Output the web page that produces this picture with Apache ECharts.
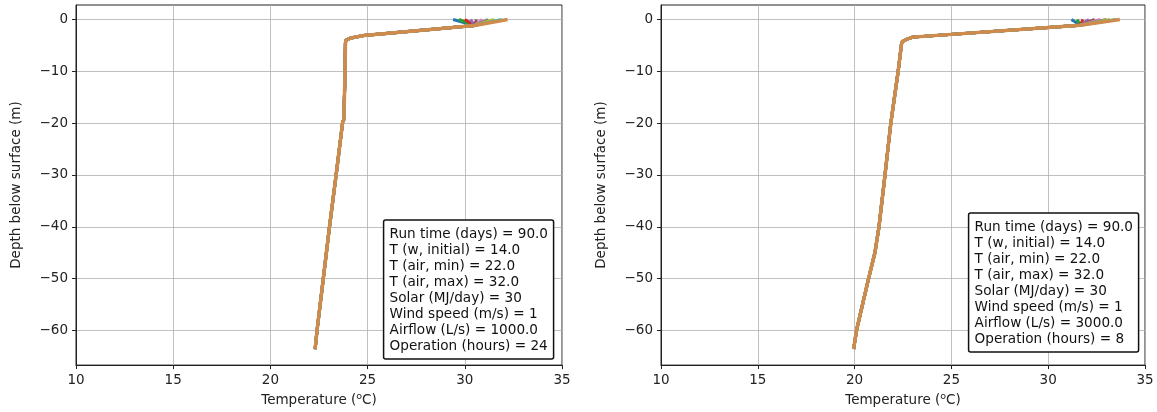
<!DOCTYPE html>
<html>
<head>
<meta charset="utf-8">
<script src="https://cdn.jsdelivr.net/npm/echarts@6/dist/echarts.min.js"></script>
<style>
  html, body { margin: 0; padding: 0; background: #fff; }
  #app { width: 1157px; height: 412px; }
</style>
</head>
<body>
<div id="app"></div>
<script>
// surface temperatures of the individual profiles (fan at depth 0)
const leftSurface = [29.4, 29.7, 30.0, 30.3, 30.6, 30.9, 31.2, 31.5, 31.9, 32.2];
const rightSurface = [31.2, 31.5, 31.8, 32.1, 32.4, 32.7, 33.0, 33.2, 33.5, 33.7];

// shared part of the profiles below the surface
const leftDepth = [-1.15, -3.1, -3.55, -4.0, -4.6, -10, -19.3, -19.7, -30, -40, -50, -60, -63.6];
const leftTemp = [30.5, 24.8, 24.15, 23.88, 23.86, 23.84, 23.78, 23.72, 23.38, 23.04, 22.72, 22.4, 22.3];

const rightDepth = [-1.1, -3.4, -3.9, -4.3, -4.8, -10, -20, -30, -40, -45, -50, -60, -63.6];
const rightTemp = [31.65, 23.0, 22.65, 22.45, 22.42, 22.25, 21.87, 21.57, 21.26, 21.05, 20.72, 20.1, 19.95];

const yTicks = [0, -10, -20, -30, -40, -50, -60];

const leftInfo = [
  "Run time (days) = 90.0",
  "T (w, initial) = 14.0",
  "T (air, min) = 22.0",
  "T (air, max) = 32.0",
  "Solar (MJ/day) = 30",
  "Wind speed (m/s) = 1",
  "Airflow (L/s) = 1000.0",
  "Operation (hours) = 24"
];
const rightInfo = [
  "Run time (days) = 90.0",
  "T (w, initial) = 14.0",
  "T (air, min) = 22.0",
  "T (air, max) = 32.0",
  "Solar (MJ/day) = 30",
  "Wind speed (m/s) = 1",
  "Airflow (L/s) = 3000.0",
  "Operation (hours) = 8"
];

// matplotlib cycle, orange-ish drawn last so it sits on top
const colors = ["#1f77b4", "#2ca02c", "#d62728", "#9467bd", "#8c564b",
                "#e377c2", "#7f7f7f", "#bcbd22", "#17becf", "#cf8a4c"];

const FONT = "DejaVu Sans";
const INK = "#222";

function minusFmt(v) {
  return v < 0 ? "\u2212" + Math.abs(v) : String(v);
}

function makeX(gridIndex) {
  return {
    type: "value",
    gridIndex,
    min: 10,
    max: 35,
    interval: 5,
    name: "{a|Temperature (}{s|o}{a|C)}",
    nameLocation: "middle",
    nameGap: 25,
    nameTextStyle: {
      rich: {
        a: { fontFamily: FONT, fontSize: 13.5, color: INK },
        s: { fontFamily: FONT, fontSize: 9.5, color: INK, verticalAlign: "top", padding: [0, 0, 6, 0] }
      }
    },
    axisLine: { onZero: false, lineStyle: { color: INK, width: 1 } },
    axisTick: { length: 4, lineStyle: { color: INK } },
    axisLabel: { margin: 8, fontFamily: FONT, fontSize: 13.5, color: INK },
    splitLine: { show: true, lineStyle: { color: "#b0b0b0", width: 0.8 } }
  };
}

function makeY(gridIndex) {
  return {
    type: "value",
    gridIndex,
    min: -66.7,
    max: 2.8,
    name: "Depth below surface (m)",
    nameLocation: "middle",
    nameGap: 53,
    nameTextStyle: { fontFamily: FONT, fontSize: 13.5, color: INK },
    axisLine: { onZero: false, lineStyle: { color: INK, width: 1 } },
    axisTick: { length: 4, lineStyle: { color: INK }, customValues: yTicks },
    axisLabel: { margin: 8, fontFamily: FONT, fontSize: 13.5, color: INK, customValues: yTicks, formatter: minusFmt },
    splitLine: { show: true, lineStyle: { color: "#b0b0b0", width: 0.8 } }
  };
}

function profileSeries(surface, depth, temp, idx) {
  return surface.map((ts, i) => {
    const data = [[ts, 0]];
    for (let k = 0; k < depth.length; k++) data.push([temp[k], depth[k]]);
    return {
      type: "line",
      xAxisIndex: idx,
      yAxisIndex: idx,
      data,
      symbol: "none",
      silent: true,
      lineStyle: { color: colors[i], width: i === surface.length - 1 ? 3.5 : 3 },
      z: 2 + i
    };
  });
}

function infoBox(lines, right, bottom) {
  return {
    text: lines.join("\n"),
    right,
    bottom,
    padding: [6, 6, 5, 6],
    backgroundColor: "#fff",
    borderColor: "#111",
    borderWidth: 1.5,
    borderRadius: 2,
    textStyle: { fontFamily: FONT, fontSize: 13.6, fontWeight: "normal", color: "#111", lineHeight: 16 }
  };
}

const chart = echarts.init(document.getElementById("app"));
chart.setOption({
  backgroundColor: "#fff",
  animation: false,
  title: [infoBox(leftInfo, 603, 53), infoBox(rightInfo, 18, 60)],
  grid: [
    { left: 76, right: 595, top: 5, bottom: 46, show: true, borderColor: INK, borderWidth: 1 },
    { left: 661, right: 12, top: 5, bottom: 46, show: true, borderColor: INK, borderWidth: 1 }
  ],
  xAxis: [makeX(0), makeX(1)],
  yAxis: [makeY(0), makeY(1)],
  series: [
    ...profileSeries(leftSurface, leftDepth, leftTemp, 0),
    ...profileSeries(rightSurface, rightDepth, rightTemp, 1)
  ]
});
</script>
</body>
</html>
